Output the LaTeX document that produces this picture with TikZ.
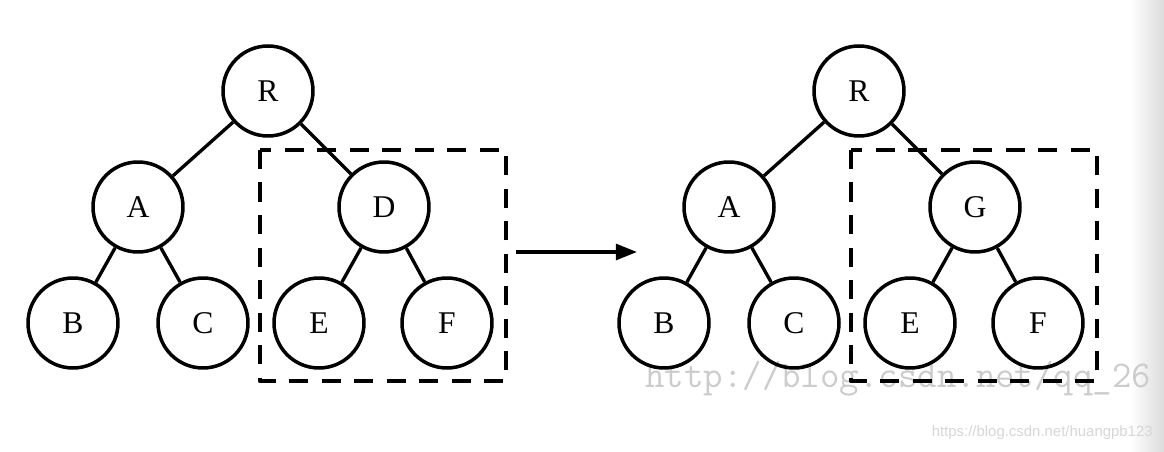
\documentclass[tikz,border=0pt]{standalone}
\usepackage{fontspec}
\setmainfont{Liberation Serif}
\newfontfamily\wmsans{Liberation Sans}
\usetikzlibrary{arrows.meta,positioning}

\begin{document}
\begin{tikzpicture}[x=0.02cm, y=-0.02cm, line join=round,
  vertex/.style={circle, draw, line width=2pt, minimum size=1.8cm, inner sep=0pt, font=\fontsize{18}{20}\selectfont},
  edge/.style={line width=1.9pt},
  subtree/.style={line width=2.4pt, dash pattern=on 11pt off 7.5pt},
  wm/.style={inner sep=0pt}]
\useasboundingbox (0,0) rectangle (1164,452);
\shade[left color=white, right color=black!14] (1130,0) rectangle (1164,452);
% watermarks
\node[wm, anchor=base west, text=black!20, font=\ttfamily\fontsize{21.5}{24}\selectfont] (wmA) at (645,388) {http://blog.csdn.net/qq\_26};
\node[wm, anchor=base east, text=black!16, font=\wmsans\fontsize{8.5}{10}\selectfont] (wmB) at (1153,437) {https://blog.csdn.net/huangpb123};
% the two trees
\foreach \dx/\t/\lab in {0/l/D, 591/r/G}{
  \node[vertex] (R\t) at (268+\dx,91) {R};
  \node[vertex] (A\t) at (138+\dx,207) {A};
  \node[vertex] (X\t) at (384+\dx,207) {\lab};
  \node[vertex] (B\t) at (73+\dx,323) {B};
  \node[vertex] (C\t) at (203+\dx,323) {C};
  \node[vertex] (E\t) at (319+\dx,323) {E};
  \node[vertex] (F\t) at (447+\dx,323) {F};
  \draw[edge] (R\t)--(A\t) (R\t)--(X\t) (A\t)--(B\t) (A\t)--(C\t) (X\t)--(E\t) (X\t)--(F\t);
  \draw[subtree] (260+\dx,150) rectangle (506+\dx,381);
}
% arrow
\coordinate (arrS) at (516,252);
\coordinate (arrE) at (637,252);
\draw[edge,-{Triangle[length=12pt,width=9pt]}] (arrS)--(arrE);
\end{tikzpicture}
\end{document}
